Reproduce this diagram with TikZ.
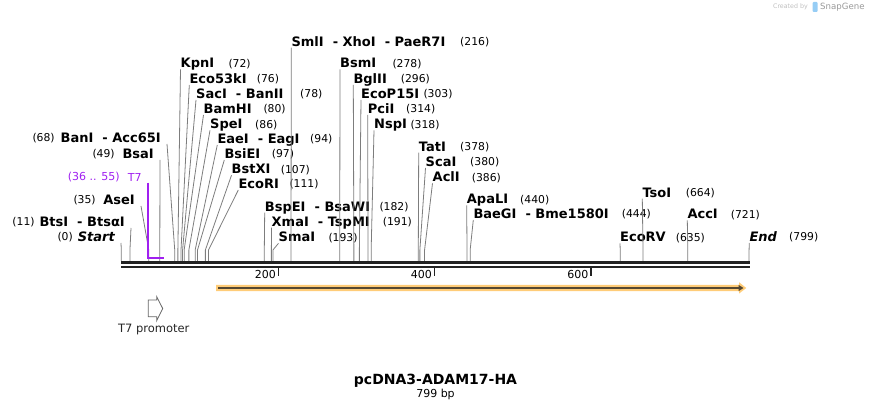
\documentclass[tikz,border=0pt]{standalone}
\usepackage{fontspec}
\setmainfont{DejaVu Sans}
\usetikzlibrary{arrows.meta}
\definecolor{sgpurple}{RGB}{160,32,240}
\definecolor{sgline}{RGB}{125,125,125}
\definecolor{sgaxis}{RGB}{34,34,34}
\definecolor{sgglow}{RGB}{255,204,120}
\definecolor{sgcds}{RGB}{85,72,50}
\definecolor{sglogo}{RGB}{150,205,245}
\newcommand{\bpx}[1]{121.3+0.7857*#1}
\tikzset{
  enzyme/.style={font=\bfseries\fontsize{13}{15}\selectfont, inner sep=0pt, text height=9.4pt, text depth=0.4pt, anchor=west},
  enzymeL/.style={enzyme, anchor=east},
  cutnum/.style={font=\fontsize{10.8}{12}\selectfont, inner sep=0pt, text height=8pt, text depth=0pt, anchor=west},
  cutline/.style={draw=sgline, line width=0.8pt},
  ticklbl/.style={font=\fontsize{11}{12}\selectfont, inner sep=0pt, anchor=east},
}

\begin{document}
\begin{tikzpicture}[x=1pt,y=-1pt]
\useasboundingbox (0,0) rectangle (871,411);

% watermark
\node[inner sep=0pt, anchor=east, text=black!25, font=\fontsize{6.3}{7}\selectfont] (created) at (808,7) {Created by};
\fill[sglogo, rounded corners=1pt] (812.5,2) rectangle (817.5,12);
\node[inner sep=0pt, anchor=west, text=black!40, font=\fontsize{8.6}{9}\selectfont] (snap) at (820,7) {SnapGene};

% backbone
\draw[sgaxis, line width=3pt] (121.3,262.5) -- (749.6,262.5);
\draw[sgaxis, line width=2pt] (121.3,266.6) -- (749.6,266.6);
\draw[sgaxis, line width=1.5pt] (278.3,267.5) -- (278.3,276);
\draw[sgaxis, line width=1.5pt] (434.5,267.5) -- (434.5,276);
\draw[sgaxis, line width=1.5pt] (591,267.5) -- (591,276);
\node[ticklbl] (t200) at (276,274) {200};
\node[ticklbl] (t400) at (432,274) {400};
\node[ticklbl] (t600) at (588.5,274) {600};

% labels left of their sites
\node[enzymeL, font=\bfseries\itshape\fontsize{13}{15}\selectfont] (start) at (115,237) {Start};
\node[cutnum] (start-n) at (57.3,237) {(0)};
\node[enzymeL] (bts) at (125,222) {BtsI~~- BtsαI};
\node[cutnum] (bts-n) at (12.3,222) {(11)};
\node[enzymeL] (ase) at (135,200) {AseI};
\node[cutnum] (ase-n) at (73.3,200) {(35)};
\node[enzymeL] (bsa) at (154,154) {BsaI};
\node[cutnum] (bsa-n) at (92.3,154) {(49)};
\node[enzymeL] (ban) at (161,138) {BanI~~- Acc65I};
\node[cutnum] (ban-n) at (32.3,138) {(68)};

% labels right of their sites
\node[enzyme] (kpn) at (180.5,63.3) {KpnI};            \node[cutnum] (kpn-n) at (228.3,63.3) {(72)};
\node[enzyme] (eco53k) at (189.3,79) {Eco53kI};        \node[cutnum] (eco53k-n) at (256.7,79) {(76)};
\node[enzyme] (sac) at (196,94) {SacI~~- BanII};       \node[cutnum] (sac-n) at (300,94) {(78)};
\node[enzyme] (bam) at (203.5,109) {BamHI};            \node[cutnum] (bam-n) at (263.3,109) {(80)};
\node[enzyme] (spe) at (210,124.3) {SpeI};             \node[cutnum] (spe-n) at (255,124.3) {(86)};
\node[enzyme] (eae) at (217.3,139) {EaeI~~- EagI};     \node[cutnum] (eae-n) at (310,139) {(94)};
\node[enzyme] (bsie) at (224.3,154) {BsiEI};           \node[cutnum] (bsie-n) at (271.7,154) {(97)};
\node[enzyme] (bstx) at (231.5,169.3) {BstXI};         \node[cutnum] (bstx-n) at (280.7,169.3) {(107)};
\node[enzyme] (ecori) at (238.3,184) {EcoRI};          \node[cutnum] (ecori-n) at (289.3,184) {(111)};
\node[enzyme] (bspe) at (264.7,206.7) {BspEI~~- BsaWI}; \node[cutnum] (bspe-n) at (379.3,206.7) {(182)};
\node[enzyme] (xma) at (271.5,221.7) {XmaI~~- TspMI};  \node[cutnum] (xma-n) at (382.7,221.7) {(191)};
\node[enzyme] (sma) at (278.5,237.3) {SmaI};           \node[cutnum] (sma-n) at (328.3,237.3) {(193)};
\node[enzyme] (sml) at (291.3,41.7) {SmlI~~- XhoI~~- PaeR7I}; \node[cutnum] (sml-n) at (460,41.7) {(216)};
\node[enzyme] (bsm) at (340,63.3) {BsmI};              \node[cutnum] (bsm-n) at (392.3,63.3) {(278)};
\node[enzyme] (bgl) at (353.3,79) {BglII};             \node[cutnum] (bgl-n) at (400.7,79) {(296)};
\node[enzyme] (ecop) at (361,94) {EcoP15I};            \node[cutnum] (ecop-n) at (423.3,94) {(303)};
\node[enzyme] (pci) at (367.7,109) {PciI};             \node[cutnum] (pci-n) at (406,109) {(314)};
\node[enzyme] (nsp) at (374,124.3) {NspI};             \node[cutnum] (nsp-n) at (410.3,124.3) {(318)};
\node[enzyme] (tat) at (418.7,146.7) {TatI};           \node[cutnum] (tat-n) at (460,146.7) {(378)};
\node[enzyme] (sca) at (425.5,162) {ScaI};             \node[cutnum] (sca-n) at (470,162) {(380)};
\node[enzyme] (acl) at (432.5,177.3) {AclI};           \node[cutnum] (acl-n) at (471.7,177.3) {(386)};
\node[enzyme] (apal) at (466.7,199.3) {ApaLI};         \node[cutnum] (apal-n) at (520,199.3) {(440)};
\node[enzyme] (baeg) at (473.3,214) {BaeGI~~- Bme1580I}; \node[cutnum] (baeg-n) at (621.7,214) {(444)};
\node[enzyme] (tso) at (642.3,192.7) {TsoI};           \node[cutnum] (tso-n) at (685.7,192.7) {(664)};
\node[enzyme] (acc) at (687.3,214.3) {AccI};           \node[cutnum] (acc-n) at (730.7,214.3) {(721)};
\node[enzyme] (ecorv) at (620,237.3) {EcoRV};          \node[cutnum] (ecorv-n) at (675.7,237.3) {(635)};
\node[enzyme, font=\bfseries\itshape\fontsize{13}{15}\selectfont] (endl) at (749.3,237) {End}; \node[cutnum] (endl-n) at (789,237) {(799)};

% connectors to the cut sites
\foreach \n/\b in {start/0, bts/11, ase/35, bsa/49, ban/68}
  \draw[cutline] ([xshift=6pt,yshift=-6pt]\n.east) -- ({\bpx{\b}},250) -- ++(0,11);
\foreach \n/\b in {kpn/72, eco53k/76, sac/78, bam/80, spe/86, eae/94, bsie/97, bstx/107, ecori/111,
    bspe/182, xma/191, sma/193, sml/216, bsm/278, bgl/296, ecop/303, pci/314, nsp/318,
    tat/378, sca/380, acl/386, apal/440, baeg/444, ecorv/635, tso/664, acc/721, endl/799}
  \draw[cutline] ([yshift=-6pt]\n.west) -- ({\bpx{\b}},250) -- ++(0,11);

% T7 primer site
\node[inner sep=0pt, anchor=west, text=sgpurple, font=\fontsize{11}{12}\selectfont] (t7-n) at (67.7,177) {(36 .. 55)};
\node[inner sep=0pt, anchor=east, text=sgpurple, font=\fontsize{11}{12}\selectfont] (t7) at (141.7,177) {T7};
\coordinate (t7-top) at (148.3,182.7);
\coordinate (t7-end) at (163.5,257.6);
\draw[sgpurple, line width=2pt] (t7-top) |- (t7-end);

% ADAM17-HA feature
\fill[sgglow] (216,284.8) -- (739,284.8) -- (739,282.2) -- (746.3,288) -- (739,293.6) -- (739,291.2) -- (216,291.2) -- cycle;
\coordinate (cds-a) at (218,288);
\coordinate (cds-b) at (743.5,288);
\draw[sgcds, line width=2.2pt, -{Triangle[length=5pt,width=6pt]}] (cds-a) -- (cds-b);

% T7 promoter
\draw[black!60, line width=0.8pt] (148.3,300) -- (156.7,300) -- (156.7,296.7) -- (162.7,308.5) -- (156.7,320.7) -- (156.7,316.8) -- (148.3,316.8) -- cycle;
\node[inner sep=0pt, text=black!85, font=\fontsize{11.5}{13}\selectfont] (t7prom) at (153.7,329.3) {T7 promoter};

% title
\node[inner sep=0pt, font=\bfseries\fontsize{14}{16}\selectfont] (title) at (435.5,380.7) {pcDNA3-ADAM17-HA};
\node[inner sep=0pt, font=\fontsize{11}{12}\selectfont] (size) at (435.5,394.3) {799 bp};
\end{tikzpicture}
\end{document}
